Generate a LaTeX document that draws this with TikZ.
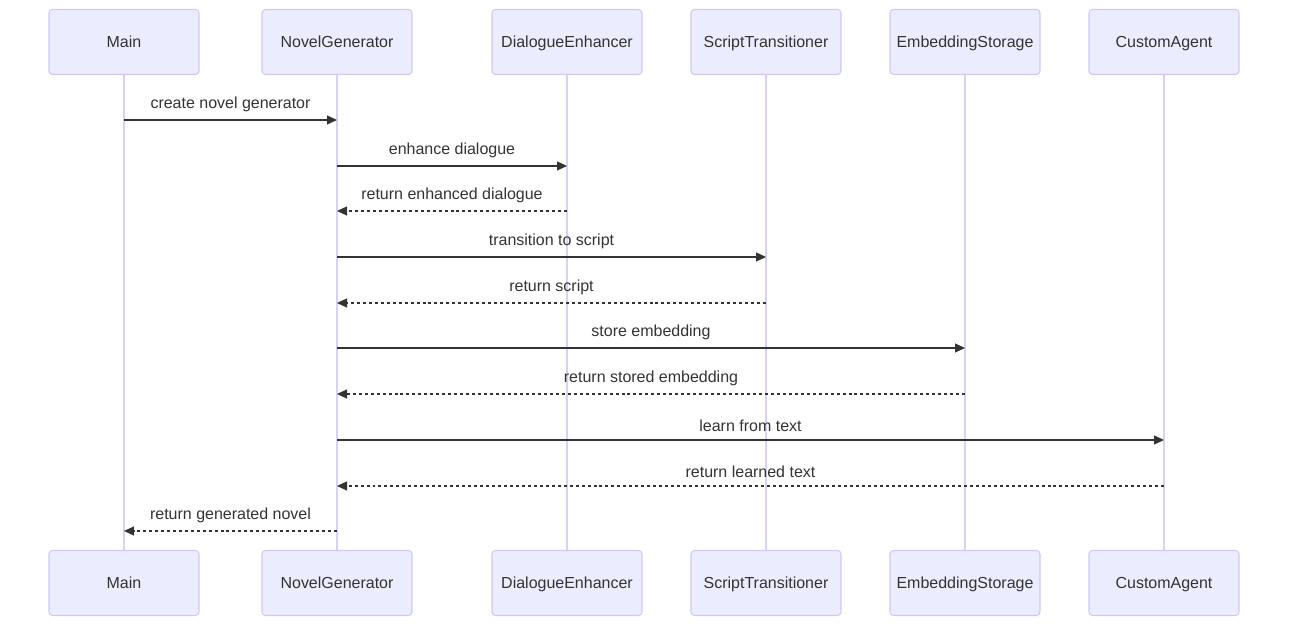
\documentclass[tikz,border=0pt]{standalone}
\usepackage{fontspec}
\setmainfont{Liberation Sans}
\usetikzlibrary{arrows.meta}
\definecolor{actorfill}{HTML}{ECECFF}
\definecolor{actorline}{HTML}{D0C8F4}
\definecolor{lifeline}{HTML}{D9D0F5}
\definecolor{msgline}{HTML}{333333}

\begin{document}
\begin{tikzpicture}[x=0.02cm,y=-0.02cm,
 font=\fontsize{9.1}{11}\selectfont,text=msgline,
 actor/.style={draw=actorline,fill=actorfill,rounded corners=2pt,minimum width=3cm,minimum height=1.3cm,line width=0.6pt,text height=1.6ex,text depth=0.4ex},
 life/.style={draw=lifeline,line width=1pt},
 call/.style={-{Triangle[length=2mm,width=1.8mm]},msgline,line width=0.7pt},
 reply/.style={call,dash pattern=on 1.7pt off 1.7pt},
 lbl/.style={above=1pt}]
\useasboundingbox (0,0) rectangle (1296,631);
% participants, top and bottom
\node[actor] (mainT) at (124,42) {Main};
\node[actor] (genT) at (337,42) {NovelGenerator};
\node[actor] (dlgT) at (567,42) {DialogueEnhancer};
\node[actor] (scrT) at (766,42) {ScriptTransitioner};
\node[actor] (embT) at (965,42) {EmbeddingStorage};
\node[actor] (agtT) at (1164,42) {CustomAgent};
\node[actor] (mainB) at (124,583) {Main};
\node[actor] (genB) at (337,583) {NovelGenerator};
\node[actor] (dlgB) at (567,583) {DialogueEnhancer};
\node[actor] (scrB) at (766,583) {ScriptTransitioner};
\node[actor] (embB) at (965,583) {EmbeddingStorage};
\node[actor] (agtB) at (1164,583) {CustomAgent};
\foreach \p in {main,gen,dlg,scr,emb,agt}
  \draw[life] (\p T)--(\p B);
% messages
\draw[call] (mainT|-0,120)--node[lbl]{create novel generator} (genT|-0,120);
\draw[call] (genT|-0,166)--node[lbl]{enhance dialogue} (dlgT|-0,166);
\draw[reply] (dlgT|-0,211)--node[lbl]{return enhanced dialogue} (genT|-0,211);
\draw[call] (genT|-0,257)--node[lbl]{transition to script} (scrT|-0,257);
\draw[reply] (scrT|-0,303)--node[lbl]{return script} (genT|-0,303);
\draw[call] (genT|-0,348)--node[lbl]{store embedding} (embT|-0,348);
\draw[reply] (embT|-0,394)--node[lbl]{return stored embedding} (genT|-0,394);
\draw[call] (genT|-0,440)--node[lbl]{learn from text} (agtT|-0,440);
\draw[reply] (agtT|-0,486)--node[lbl]{return learned text} (genT|-0,486);
\draw[reply] (genT|-0,531)--node[lbl]{return generated novel} (mainT|-0,531);
\end{tikzpicture}
\end{document}
